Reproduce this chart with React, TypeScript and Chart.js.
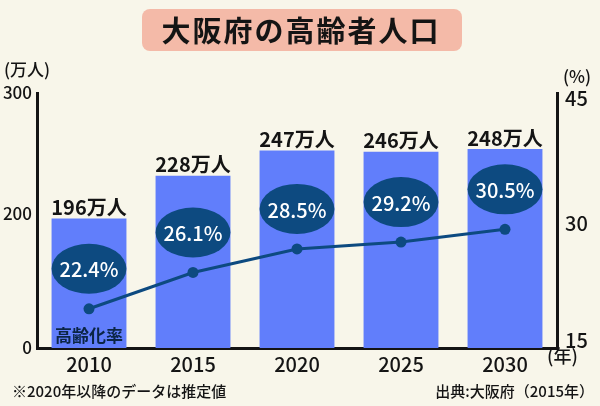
import React, { useEffect, useRef } from "react";
import { Chart, registerables } from "chart.js";

Chart.register(...registerables);

// ---- data ----
const years = ["2010", "2015", "2020", "2025", "2030"];
const elderlyPop = [196, 228, 247, 246, 248]; // 万人
const agingRate = [22.4, 26.1, 28.5, 29.2, 30.5]; // %
const leftTickLabels = ["0", "200", "300"];
const leftTickValues = [99, 200, 290];
const rightTickLabels = ["15", "30", "45"];
const rightTickValues = [19.2, 31.1, 43.8];
const titleText = "大阪府の高齢者人口";
const seriesLabel = "高齢化率";
const leftUnit = "(万人)";
const rightUnit = "(%)";
const xUnit = "(年)";
const noteLeft = "※2020年以降のデータは推定値";
const noteRight = "出典:大阪府（2015年）";

const FONT = "'Noto Sans CJK JP', 'Noto Sans', sans-serif";
const BG = "#F8F6EA";
const BAR = "#617EFB";
const NAVY = "#0D4A80";
const INK = "#141414";

const overlay = {
  id: "overlay",
  beforeDraw(chart: any) {
    const ctx = chart.ctx as CanvasRenderingContext2D;
    ctx.save();
    ctx.fillStyle = BG;
    ctx.fillRect(0, 0, chart.width, chart.height);
    // title box
    ctx.fillStyle = "#F4BAA8";
    ctx.beginPath();
    (ctx as any).roundRect(142, 9, 320, 42, 8);
    ctx.fill();
    ctx.fillStyle = INK;
    ctx.font = `bold 29px ${FONT}`;
    (ctx as any).letterSpacing = "2px";
    ctx.textAlign = "center";
    ctx.textBaseline = "middle";
    ctx.fillText(titleText, 301, 31);
    ctx.restore();
  },
  afterDatasetsDraw(chart: any) {
    const ctx = chart.ctx as CanvasRenderingContext2D;
    const barMeta = chart.getDatasetMeta(0);
    const lineMeta = chart.getDatasetMeta(1);
    ctx.save();
    ctx.textAlign = "center";
    ctx.textBaseline = "middle";
    // bar value labels
    ctx.fillStyle = INK;
    ctx.font = `bold 20px ${FONT}`;
    barMeta.data.forEach((bar: any, i: number) => {
      ctx.fillText(`${elderlyPop[i]}万人`, bar.x, bar.y - 11);
    });
    // ellipses with rate labels
    lineMeta.data.forEach((pt: any, i: number) => {
      const w = barMeta.data[i].width;
      const cy = pt.y - 40;
      ctx.fillStyle = NAVY;
      ctx.beginPath();
      ctx.ellipse(pt.x, cy, w / 2, 25, 0, 0, Math.PI * 2);
      ctx.fill();
      ctx.fillStyle = "#FFFFFF";
      ctx.font = `500 20px ${FONT}`;
      ctx.fillText(`${agingRate[i].toFixed(1)}%`, pt.x, cy + 1);
    });
    // series label
    ctx.fillStyle = "#0B2545";
    ctx.font = `bold 17px ${FONT}`;
    ctx.fillText(seriesLabel, barMeta.data[0].x, 336);
    ctx.restore();
  },
  afterDraw(chart: any) {
    const ctx = chart.ctx as CanvasRenderingContext2D;
    ctx.save();
    ctx.fillStyle = INK;
    ctx.textBaseline = "middle";
    ctx.font = `500 17px ${FONT}`;
    ctx.textAlign = "left";
    ctx.fillText(leftUnit, 4, 70);
    ctx.fillText(rightUnit, 563, 77);
    ctx.font = `500 18px ${FONT}`;
    ctx.fillText(xUnit, 547, 356);
    ctx.font = `500 15px ${FONT}`;
    ctx.fillText(noteLeft, 12, 391);
    ctx.textAlign = "right";
    ctx.fillText(noteRight, 594, 391);
    ctx.restore();
  },
};

export default function App() {
  const ref = useRef<HTMLCanvasElement | null>(null);
  useEffect(() => {
    if (!ref.current) return;
    const chart = new Chart(ref.current, {
      type: "bar",
      data: {
        labels: years,
        datasets: [
          {
            type: "bar",
            label: "高齢者人口",
            data: elderlyPop,
            backgroundColor: BAR,
            yAxisID: "y",
            barPercentage: 0.72,
            categoryPercentage: 1,
            order: 2,
          },
          {
            type: "line",
            label: seriesLabel,
            data: agingRate,
            borderColor: NAVY,
            backgroundColor: NAVY,
            borderWidth: 3,
            pointRadius: 5.5,
            pointBackgroundColor: NAVY,
            pointBorderWidth: 0,
            yAxisID: "y2",
            order: 1,
          } as any,
        ],
      },
      options: {
        animation: false,
        responsive: false,
        devicePixelRatio: 1,
        layout: { padding: { top: 93, left: 0, right: 0, bottom: 0 } },
        plugins: {
          legend: { display: false },
          tooltip: { enabled: false },
          title: { display: false },
        },
        scales: {
          x: {
            grid: { display: false, drawTicks: false },
            border: { display: true, color: INK, width: 3 },
            ticks: {
              color: INK,
              padding: 4,
              font: { family: FONT, size: 20, weight: "500" as any },
            },
            afterFit: (s: any) => {
              s.height = 58;
            },
          },
          y: {
            position: "left",
            min: leftTickValues[0],
            max: leftTickValues[2],
            grid: { display: false, drawTicks: false },
            border: { display: true, color: INK, width: 3 },
            afterBuildTicks: (s: any) => {
              s.ticks = leftTickValues.map((v) => ({ value: v }));
            },
            ticks: {
              autoSkip: false,
              color: INK,
              padding: 5,
              font: { family: FONT, size: 17, weight: "500" as any },
              callback: (_v: any, i: number) => leftTickLabels[i],
            },
            afterFit: (s: any) => {
              s.width = 37;
            },
          },
          y2: {
            position: "right",
            min: 18.4,
            max: 44.4,
            grid: { display: false, drawTicks: false },
            border: { display: true, color: INK, width: 3 },
            afterBuildTicks: (s: any) => {
              s.ticks = rightTickValues.map((v) => ({ value: v }));
            },
            ticks: {
              autoSkip: false,
              color: INK,
              padding: 8,
              font: { family: FONT, size: 20, weight: "500" as any },
              callback: (_v: any, i: number) => rightTickLabels[i],
            },
            afterFit: (s: any) => {
              s.width = 43;
            },
          },
        },
      },
      plugins: [overlay],
    });
    return () => chart.destroy();
  }, []);
  return (
    <div style={{ position: "fixed", left: 0, top: 0, width: 600, height: 406, background: BG }}>
      <canvas ref={ref} width={600} height={406} style={{ display: "block" }} />
    </div>
  );
}
